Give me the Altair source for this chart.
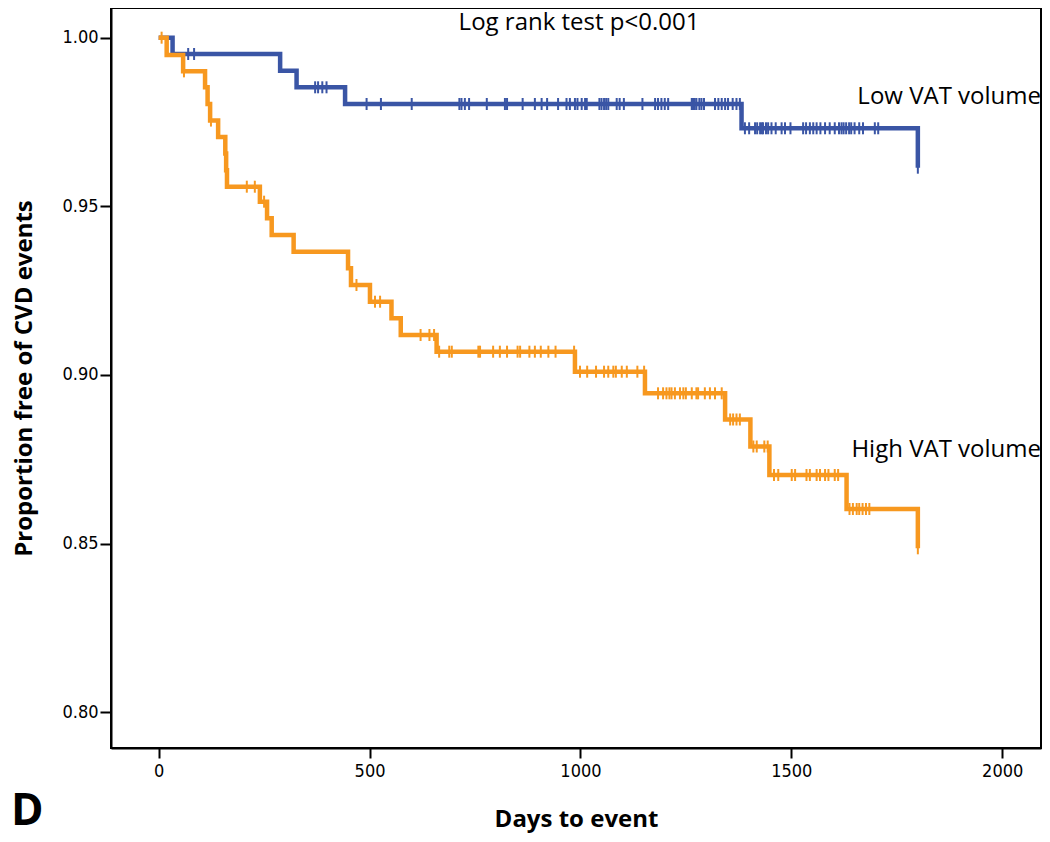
import altair as alt
import pandas as pd
import numpy as np

# ---- data ----
low_event_days = [33, 288, 327, 442, 1382, 1800]
low_event_surv = [0.99517, 0.99022, 0.98529, 0.98034, 0.97314, 0.96146]
low_censor_days = [70, 84, 371, 378, 388, 398, 493, 527, 600, 713, 718, 726, 736, 778,
                   821, 826, 863, 892, 908, 921, 947, 967, 975, 987, 993, 1003, 1011, 1015,
                   1045, 1050, 1056, 1061, 1066, 1086, 1093, 1103, 1147, 1177, 1184, 1192,
                   1200, 1208, 1264, 1267, 1271, 1275, 1282, 1287, 1293, 1319, 1327, 1335,
                   1343, 1350, 1361, 1370, 1378, 1390, 1400, 1414, 1419, 1426, 1430, 1433,
                   1440, 1445, 1453, 1463, 1477, 1485, 1498, 1528, 1535, 1544, 1552, 1560,
                   1569, 1580, 1591, 1603, 1613, 1619, 1624, 1630, 1637, 1642, 1650, 1661,
                   1670, 1698, 1706, 1800]

high_event_days = [19, 58, 110, 116, 122, 141, 158, 160, 162, 240, 257, 268, 320, 449, 456,
                   501, 552, 574, 659, 987, 1153, 1343, 1403, 1448, 1631, 1800]
high_event_surv = [0.99487, 0.99002, 0.98529, 0.98036, 0.97543, 0.97053, 0.96563, 0.96073,
                   0.95583, 0.95138, 0.94646, 0.94150, 0.93655, 0.93163, 0.92668, 0.92173,
                   0.91681, 0.91186, 0.90691, 0.90098, 0.89457, 0.88681, 0.87880, 0.87035,
                   0.86027, 0.84862]
high_censor_days = [7, 60, 124, 209, 228, 250, 469, 513, 525, 621, 642, 653, 665, 689, 695,
                    758, 762, 793, 809, 826, 851, 857, 879, 892, 906, 924, 941, 985, 999,
                    1016, 1037, 1056, 1066, 1078, 1084, 1098, 1110, 1135, 1151, 1184, 1196,
                    1204, 1211, 1216, 1224, 1236, 1244, 1250, 1264, 1275, 1279, 1295, 1307,
                    1319, 1335, 1355, 1362, 1370, 1378, 1410, 1418, 1436, 1444, 1459, 1469,
                    1501, 1509, 1536, 1544, 1560, 1568, 1580, 1588, 1603, 1611, 1638, 1646,
                    1655, 1661, 1669, 1677, 1685, 1800]

groups = ["Low VAT volume", "High VAT volume"]
colors = ["#3a55a5", "#f7981f"]
x_ticks = [0, 500, 1000, 1500, 2000]
y_ticks = [0.80, 0.85, 0.90, 0.95, 1.00]

NUM_FONT = "DejaVu Sans Condensed"
TXT_FONT = "Open Sans"


def step_frame(name, days, surv):
    d = [0] + list(days)
    s = [1.0] + list(surv)
    return pd.DataFrame({"group": name, "day": d, "surv": s, "order": range(len(d))})


def censor_frame(name, days, ev_days, ev_surv):
    ev_days = np.array(ev_days)
    levels = np.concatenate([[1.0], ev_surv])
    idx = np.searchsorted(ev_days, np.array(days), side="right")
    return pd.DataFrame({"group": name, "day": days, "surv": levels[idx]})


steps = pd.concat([
    step_frame(groups[0], low_event_days, low_event_surv),
    step_frame(groups[1], high_event_days, high_event_surv),
])
cens = pd.concat([
    censor_frame(groups[0], low_censor_days, low_event_days, low_event_surv),
    censor_frame(groups[1], high_censor_days, high_event_days, high_event_surv),
])

xscale = alt.Scale(domain=[-113, 2092], nice=False, zero=False)
yscale = alt.Scale(domain=[0.78942, 1.0088], nice=False, zero=False)
color = alt.Color("group:N", scale=alt.Scale(domain=groups, range=colors), legend=None)

xaxis = alt.Axis(values=x_ticks, format="d", title="Days to event", grid=False, tickSize=10,
                 labelPadding=4, titleY=78, titleBaseline="alphabetic")
yaxis = alt.Axis(values=y_ticks, format=".2f", title="Proportion free of CVD events",
                 grid=False, tickSize=11, labelPadding=2, titleX=-80,
                 titleBaseline="alphabetic")

lines = alt.Chart(steps).mark_line(interpolate="step-after", strokeWidth=4.5).encode(
    x=alt.X("day:Q", scale=xscale, axis=xaxis),
    y=alt.Y("surv:Q", scale=yscale, axis=yaxis),
    color=color,
    order="order:Q",
    detail="group:N",
)

ticks = alt.Chart(cens).mark_tick(orient="vertical", size=12, thickness=2, opacity=1).encode(
    x=alt.X("day:Q", scale=xscale),
    y=alt.Y("surv:Q", scale=yscale),
    color=color,
)

logrank = alt.Chart(pd.DataFrame({"t": ["Log rank test p<0.001"]})).mark_text(
    font=TXT_FONT, fontSize=24, align="center", baseline="middle", color="black"
).encode(text="t:N", x=alt.value(468), y=alt.value(15))

low_lab = alt.Chart(pd.DataFrame({"t": [groups[0]]})).mark_text(
    font=TXT_FONT, fontSize=24, align="right", baseline="middle", color="black"
).encode(text="t:N", x=alt.value(930), y=alt.value(89))

high_lab = alt.Chart(pd.DataFrame({"t": [groups[1]]})).mark_text(
    font=TXT_FONT, fontSize=24, align="right", baseline="middle", color="black"
).encode(text="t:N", x=alt.value(930), y=alt.value(442))

panel = alt.Chart(pd.DataFrame({"t": ["D"]})).mark_text(
    font=TXT_FONT, fontSize=44, fontWeight="bold", align="left", baseline="middle",
    color="black"
).encode(text="t:N", x=alt.value(-100), y=alt.value(804))

chart = alt.layer(
    lines.transform_filter(alt.datum.group == groups[0]),
    ticks.transform_filter(alt.datum.group == groups[0]),
    lines.transform_filter(alt.datum.group == groups[1]),
    ticks.transform_filter(alt.datum.group == groups[1]),
    logrank, low_lab, high_lab, panel,
).properties(
    width=930, height=740,
    autosize=alt.AutoSizeParams(type="none"),
    padding={"left": 103, "top": 0, "right": 1, "bottom": 86},
).configure_view(
    stroke="black", strokeWidth=2
).configure_axis(
    domainColor="black", domainWidth=2, tickColor="black", tickWidth=2,
    labelFont=NUM_FONT, labelFontSize=18, labelColor="black",
    titleFont=TXT_FONT, titleFontSize=24, titleFontWeight="bold", titleColor="black",
)

chart.save("out.html", embed_options={"renderer": "svg", "actions": False})
